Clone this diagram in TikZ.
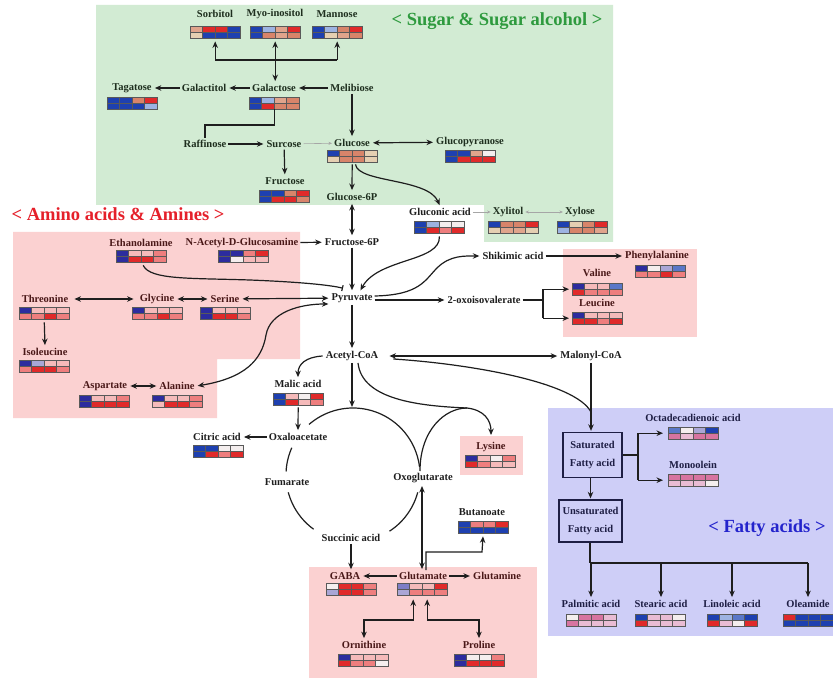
\documentclass[tikz,border=0pt]{standalone}
\usepackage{fontspec}
\setmainfont{Liberation Serif}
\usetikzlibrary{arrows.meta}

% region backgrounds and inks
\definecolor{bgsugar}{HTML}{D2EBD3}
\definecolor{bgamino}{HTML}{FBD1D1}
\definecolor{bgfat}{HTML}{CECEF7}
\definecolor{ttlgreen}{HTML}{2E9A3E}
\definecolor{ttlred}{HTML}{E5202A}
\definecolor{ttlblue}{HTML}{2424CC}
\definecolor{inkS}{HTML}{1E2E1E}
\definecolor{inkA}{HTML}{4A1818}
\definecolor{inkC}{HTML}{1E1E1E}
\definecolor{inkF}{HTML}{1E1E44}

% heat-map cell colours
\definecolor{hmB}{HTML}{1E40B0}
\definecolor{hmN}{HTML}{2C2C9E}
\definecolor{hmk}{HTML}{5A78C8}
\definecolor{hmb}{HTML}{9DB3E2}
\definecolor{hml}{HTML}{A9A6D6}
\definecolor{hmv}{HTML}{7E7EC6}
\definecolor{hmw}{HTML}{F4EEEE}
\definecolor{hmp}{HTML}{F5BABA}
\definecolor{hmr}{HTML}{EE7E7E}
\definecolor{hmR}{HTML}{E02A2A}
\definecolor{hms}{HTML}{D8846A}
\definecolor{hmf}{HTML}{E0A48C}
\definecolor{hme}{HTML}{E5CFB2}
\definecolor{hmm}{HTML}{D774A0}
\definecolor{hmq}{HTML}{E9BCD4}

% \hmap{name}{left x}{top y}{8 cell codes, top row then bottom row}
\newcommand\hmap[4]{%
  \node[inner sep=0pt, minimum width=50pt, minimum height=12pt, anchor=north west] (#1) at (#2,#3) {};
  \foreach \hcol [count=\i from 0] in {#4} {%
    \pgfmathtruncatemacro\hmc{mod(\i,4)}%
    \pgfmathtruncatemacro\hmr{\i/4}%
    \fill[fill=hm\hcol] ({#2+12.5*\hmc},{#3+6*\hmr}) rectangle ++(12.5,6);
  }
  \draw[hmedge] (#2,#3) rectangle ++(50,12)
    (#2,#3+6) -- ++(50,0)
    (#2+12.5,#3) -- ++(0,12)
    (#2+25,#3) -- ++(0,12)
    (#2+37.5,#3) -- ++(0,12);
}

\begin{document}
\begin{tikzpicture}[x=1pt,y=-1pt,
  lbl/.style={font=\fontsize{10.5}{12}\selectfont\bfseries, inner sep=2pt, text=inkC},
  lblS/.style={lbl, text=inkS},
  lblA/.style={lbl, text=inkA},
  lblF/.style={lbl, text=inkF},
  ttl/.style={font=\fontsize{18.5}{22}\selectfont\bfseries, inner sep=0pt},
  hmedge/.style={draw=black!65, line width=0.55pt},
  tipA/.tip={Stealth[length=6.5pt,width=5.5pt]},
  plain/.style={draw=inkC, line width=1.2pt},
  flow/.style={plain, -tipA, shorten >=1pt},
  flowtwo/.style={plain, tipA-tipA, shorten >=1pt, shorten <=1pt},
  faint/.style={draw=black!35, line width=0.6pt, -{Stealth[length=3.5pt,width=3pt]}},
  faintwo/.style={faint, {Stealth[length=3.5pt,width=3pt]}-{Stealth[length=3.5pt,width=3pt]}},
  fabox/.style={draw=inkF, line width=1.3pt, text=inkF, align=center,
    font=\fontsize{10.5}{18}\selectfont\bfseries, inner sep=2pt}
]
\useasboundingbox (0,0) rectangle (833,679);
\fill[white] (0,0) rectangle (833,679);

% ---------- coloured regions ----------
\fill[bgsugar] (96,5) -- (613,5) -- (613,242) -- (484,242) -- (484,205) -- (96,205) -- cycle;
\fill[bgamino] (13,232) -- (300,232) -- (300,359) -- (217,359) -- (217,418) -- (13,418) -- cycle;
\fill[bgamino] (563,249) rectangle (697,337);
\fill[bgamino] (460,436) rectangle (523,475);
\fill[bgamino] (309,567) rectangle (537,678);
\fill[bgfat] (548,408) rectangle (833,636);

% ---------- titles ----------
\node[ttl, text=ttlgreen] (sugartitle) at (497,21) {< Sugar \& Sugar alcohol >};
\node[ttl, text=ttlred] (aminotitle) at (118,214) {< Amino acids \& Amines >};
\node[ttl, text=ttlblue] (fattitle) at (767,528) {< Fatty acids >};

% ---------- sugars ----------
\node[lblS] (sorbitol) at (215,14) {Sorbitol};
\node[lblS] (myo) at (275,14) {Myo-inositol};
\node[lblS] (mannose) at (337,14) {Mannose};
\node[lblS] (tagatose) at (132,88) {Tagatose};
\node[lblS] (galactitol) at (204,88) {Galactitol};
\node[lblS] (galactose) at (274,88) {Galactose};
\node[lblS] (melibiose) at (352,88) {Melibiose};
\node[lblS] (raffinose) at (205,144) {Raffinose};
\node[lblS] (surcose) at (284,144) {Surcose};
\node[lblS] (glucose) at (352,143) {Glucose};
\node[lblS] (glucopyranose) at (470,142) {Glucopyranose};
\node[lblS] (fructose) at (285,181) {Fructose};
\node[lblS] (glucosesix) at (352,197) {Glucose-6P};
\node[lbl] (gluconic) at (440,212) {Gluconic acid};
\node[lblS] (xylitol) at (508,212) {Xylitol};
\node[lblS] (xylose) at (580,212) {Xylose};

\hmap{sorbitolHM}{190}{26}{f,R,R,B,e,B,B,B}
\hmap{myoHM}{250}{26}{B,b,f,R,B,s,f,s}
\hmap{mannoseHM}{312}{26}{B,b,s,R,B,e,f,s}
\hmap{tagatoseHM}{107}{97}{B,B,s,R,B,B,B,b}
\hmap{galactoseHM}{249}{97}{B,b,f,s,B,R,s,s}
\hmap{glucoseHM}{327}{150}{B,s,s,e,e,s,s,e}
\hmap{glucopyranoseHM}{445}{150}{B,B,f,w,B,R,R,R}
\hmap{fructoseHM}{259}{190}{B,B,s,R,B,R,R,s}
\hmap{gluconicHM}{414}{221}{B,b,w,w,B,R,r,R}
\hmap{xylitolHM}{488}{221}{B,s,s,R,e,f,f,e}
\hmap{xyloseHM}{557}{221}{B,e,s,R,b,s,s,f}

% ---------- amino acids & amines ----------
\node[lblA] (ethanolamine) at (141,243) {Ethanolamine};
\node[lblA] (nacetyl) at (242,243) {N-Acetyl-D-Glucosamine};
\node[lblA] (threonine) at (45,299) {Threonine};
\node[lblA] (glycine) at (157,299) {Glycine};
\node[lblA] (serine) at (225,299) {Serine};
\node[lblA] (isoleucine) at (45,352) {Isoleucine};
\node[lblA] (aspartate) at (105,386) {Aspartate};
\node[lblA] (alanine) at (177,386) {Alanine};
\node[lblA] (phenylalanine) at (657,256) {Phenylalanine};
\node[lblA] (valine) at (597,273) {Valine};
\node[lblA] (leucine) at (597,303) {Leucine};
\node[lblA] (lysine) at (491,447) {Lysine};
\node[lblA] (gaba) at (345,576) {GABA};
\node[lblA] (glutamate) at (423,576) {Glutamate};
\node[lblA] (glutamine) at (497,576) {Glutamine};
\node[lblA] (ornithine) at (364,645) {Ornithine};
\node[lblA] (proline) at (479,645) {Proline};

\hmap{ethanolamineHM}{116}{250}{N,p,p,r,N,R,R,r}
\hmap{nacetylHM}{218}{250}{N,N,r,R,N,w,p,p}
\hmap{threonineHM}{19}{307}{N,p,p,p,r,r,R,r}
\hmap{glycineHM}{132}{307}{N,p,p,p,r,r,R,r}
\hmap{serineHM}{200}{307}{N,p,p,p,N,R,R,r}
\hmap{isoleucineHM}{19}{360}{N,l,p,p,r,R,R,r}
\hmap{aspartateHM}{79}{395}{N,p,p,r,N,R,R,R}
\hmap{alanineHM}{152}{395}{N,p,p,r,p,R,R,r}
\hmap{phenylalanineHM}{635}{265}{N,w,l,k,r,r,R,r}
\hmap{valineHM}{572}{283}{N,p,p,k,R,r,r,r}
\hmap{leucineHM}{572}{312}{N,p,p,p,R,R,r,R}
\hmap{lysineHM}{465}{455}{N,p,w,r,R,r,p,p}
\hmap{gabaHM}{326}{583}{w,R,R,r,l,R,R,r}
\hmap{glutamateHM}{397}{583}{v,p,p,R,l,r,r,r}
\hmap{ornithineHM}{338}{654}{N,p,p,p,R,r,r,w}
\hmap{prolineHM}{454}{654}{N,w,w,r,N,R,R,R}

% ---------- central metabolism ----------
\node[lbl] (fructosesix) at (352,242) {Fructose-6P};
\node[lbl] (pyruvate) at (352,298) {Pyruvate};
\node[lbl] (shikimic) at (513,256) {Shikimic acid};
\node[lbl] (oxo) at (484,300) {2-oxoisovalerate};
\node[lbl] (acetylcoa) at (352,356) {Acetyl-CoA};
\node[lbl] (malonyl) at (591,356) {Malonyl-CoA};
\node[lbl] (malic) at (298,384) {Malic acid};
\node[lbl] (oxaloacetate) at (298,437) {Oxaloacetate};
\node[lbl] (citric) at (217,437) {Citric acid};
\node[lbl] (fumarate) at (287,482) {Fumarate};
\node[lbl] (oxoglutarate) at (423,478) {Oxoglutarate};
\node[lbl] (succinic) at (351,538) {Succinic acid};
\node[lbl] (butanoate) at (482,512) {Butanoate};

\hmap{malicHM}{273}{393}{B,p,w,R,B,R,p,r}
\hmap{citricHM}{193}{445}{B,B,w,w,B,R,r,R}
\hmap{butanoateHM}{458}{521}{B,r,r,R,B,B,B,B}

% ---------- fatty acids ----------
\node[fabox, minimum width=59pt, minimum height=45pt] (saturated) at (592.5,455) {Saturated\\Fatty acid};
\node[fabox, minimum width=63pt, minimum height=42pt] (unsaturated) at (590.5,521) {Unsaturated\\Fatty acid};
\node[lblF] (octadec) at (693,418) {Octadecadienoic acid};
\node[lblF] (monoolein) at (693,465) {Monoolein};
\node[lblF] (palmitic) at (591,604) {Palmitic acid};
\node[lblF] (stearic) at (661,604) {Stearic acid};
\node[lblF] (linoleic) at (732,604) {Linoleic acid};
\node[lblF] (oleamide) at (808,604) {Oleamide};

\hmap{octadecHM}{668}{427}{k,w,l,B,m,q,m,m}
\hmap{monooleinHM}{668}{474}{m,m,m,m,q,q,q,w}
\hmap{palmiticHM}{566}{614}{w,m,m,q,m,q,q,q}
\hmap{stearicHM}{635}{614}{B,q,q,w,R,q,q,q}
\hmap{linoleicHM}{707}{614}{B,b,k,B,R,q,w,R}
\hmap{oleamideHM}{783}{614}{R,B,B,B,B,B,B,B}

% ---------- sugar connectors ----------
\coordinate (sugbar) at (275,60);
\draw[plain] (sugbar -| sorbitolHM.south) -- (sugbar -| mannoseHM.south);
\draw[flow, shorten >=3pt] (sugbar -| sorbitolHM.south) -- (sorbitolHM.south);
\draw[flow, shorten >=3pt] (sugbar -| mannoseHM.south) -- (mannoseHM.south);
\draw[flowtwo, shorten >=3pt] (galactose.north -| myoHM.south) -- (myoHM.south);
\draw[flow] (galactose) -- (galactitol);
\draw[flow] (galactitol) -- (tagatose);
\draw[flow] (melibiose) -- (galactose);
\draw[flow] (melibiose) -- (glucose);
\coordinate (raffbend) at (205,125);
\draw[plain] (galactoseHM.south) |- (raffbend) -- (raffinose.north);
\draw[flow] (raffinose) -- (surcose);
\draw[faint] (surcose) -- (glucose);
\draw[flow] (surcose) -- (fructose);
\draw[flowtwo] (glucose) -- (glucopyranose);
\draw[flow, shorten <=2pt] (glucoseHM.south) -- (glucosesix.north);
\draw[flow, shorten <=2pt] ([xshift=3pt]glucoseHM.south) .. controls (358,183) and (428,178) .. (gluconic.north);
\draw[faint] (gluconic) -- (xylitol);
\draw[faintwo] (xylitol) -- (xylose);
\draw[flowtwo] (glucosesix) -- (fructosesix);

% ---------- glycolysis and branches ----------
\draw[flow] (nacetyl) -- (fructosesix);
\draw[flow] (fructosesix) -- (pyruvate);
\draw[flow, shorten <=3pt] (gluconicHM.south) .. controls (441,262) and (378,258) .. ([xshift=8pt]pyruvate.north);
\draw[plain, -{Bar[width=6pt]}] ([xshift=2pt,yshift=-3pt]ethanolamineHM.south) .. controls (150,280) and (190,278) .. (250,280) .. controls (300,282) and (330,285) .. ([xshift=-9pt,yshift=3pt]pyruvate.north);
\draw[flowtwo] (serine) -- (pyruvate);
\draw[flowtwo] (glycine) -- (serine);
\draw[flowtwo, shorten <=4pt, shorten >=4pt] (threonine) -- (glycine);
\draw[flow, shorten <=3pt] (threonineHM.south) -- (isoleucine.north);
\draw[flowtwo] (aspartate) -- (alanine);
\draw[flowtwo] (alanine.east) .. controls (245,378) and (262,360) .. (266,335) .. controls (270,312) and (300,304) .. ([yshift=-6pt]pyruvate.west);
\draw[flow] ([yshift=2pt]pyruvate.east) .. controls (420,295) and (425,280) .. (437,268) .. controls (450,255) and (465,256) .. (shikimic.west);
\draw[flow] ([yshift=-2pt]pyruvate.east) -- (oxo.west);
\draw[flow] (shikimic) -- (phenylalanine);
\coordinate (vlfork) at (543,300);
\draw[plain] (oxo.east) -- (vlfork);
\draw[plain] (vlfork |- valineHM.west) -- (vlfork |- leucineHM.west);
\draw[flow, shorten >=3pt] (vlfork |- valineHM.west) -- (valineHM.west);
\draw[flow, shorten >=3pt] (vlfork |- leucineHM.west) -- (leucineHM.west);
\draw[flow] (pyruvate) -- (acetylcoa);

% ---------- acetyl-CoA, TCA cycle ----------
\draw[flowtwo, shorten <=9pt] (acetylcoa) -- (malonyl);
\coordinate (fajoin) at (591,412);
\draw[plain] ([xshift=13pt,yshift=-3pt]acetylcoa.east) .. controls (470,364) and (575,382) .. (fajoin);
\draw[flow] (malonyl.south) -- (malonyl.south |- saturated.north);
\draw[flow] ([xshift=-1pt]acetylcoa.west) .. controls (306,357) and (298,364) .. (malic.north);
\draw[flow, shorten <=2pt] (malicHM.south) -- (oxaloacetate.north);
\draw[flow] (oxaloacetate) -- (citric);
\coordinate (tcatop) at (353,408);
\draw[flow] (acetylcoa.south) -- (acetylcoa.south |- tcatop);
\draw[plain] plot[domain=7:131, samples=60, smooth] ({353+67*cos(\x)},{475-67*sin(\x)});
\draw[plain] plot[domain=156:177, samples=20, smooth] ({353+67*cos(\x)},{475-67*sin(\x)});
\draw[plain] plot[domain=195:234, samples=30, smooth] ({353+67*cos(\x)},{475-67*sin(\x)});
\draw[plain] plot[domain=-57:-15, samples=30, smooth] ({353+67*cos(\x)},{475-67*sin(\x)});
\coordinate (lysjoin) at (467,408);
\draw[flow, shorten >=5pt] ([xshift=6pt]acetylcoa.south) .. controls (362,400) and (420,406) .. (lysjoin) .. controls (484,410) and (491,420) .. (lysine.north);
\draw[plain] ([xshift=-3pt]oxoglutarate.north) .. controls (420,430) and (445,408) .. (lysjoin);
\draw[flow] (succinic.south) -- (succinic.south |- gaba.north);

% ---------- glutamate family ----------
\draw[flowtwo] ([xshift=-1pt]oxoglutarate.south) -- ([xshift=-1pt]glutamate.north);
\coordinate (butbend) at (482,552);
\draw[flow, shorten >=3pt] ([xshift=3pt]glutamate.north) |- (butbend) -- (butanoateHM.south);
\draw[flow] (glutamate) -- (gaba);
\draw[flow] (glutamate) -- (glutamine);
\coordinate (ornbend) at (364,620);
\coordinate (probend) at (479,620);
\draw[flowtwo] ([xshift=-9pt,yshift=-3pt]glutamateHM.south) |- (ornbend) -- (ornithine.north);
\draw[flowtwo] ([xshift=5pt,yshift=-3pt]glutamateHM.south) |- (probend) -- (proline.north);

% ---------- fatty acid connectors ----------
\coordinate (safork) at (638,455);
\draw[plain] (saturated.east) -- (safork);
\draw[plain] (safork |- octadecHM.west) -- (safork |- monooleinHM.west);
\draw[flow, shorten >=5pt] (safork |- octadecHM.west) -- (octadecHM.west);
\draw[flow, shorten >=5pt] (safork |- monooleinHM.west) -- (monooleinHM.west);
\draw[flow] (unsaturated.north |- saturated.south) -- (unsaturated.north);
\coordinate (unbar) at (590,563);
\draw[plain] (unsaturated.south -| unbar) -- (unbar);
\draw[plain] (unbar -| palmitic.north) -- (unbar -| oleamide.north);
\foreach \fa in {palmitic,stearic,linoleic,oleamide}
  \draw[flow] (unbar -| \fa.north) -- (\fa.north);
\end{tikzpicture}
\end{document}
